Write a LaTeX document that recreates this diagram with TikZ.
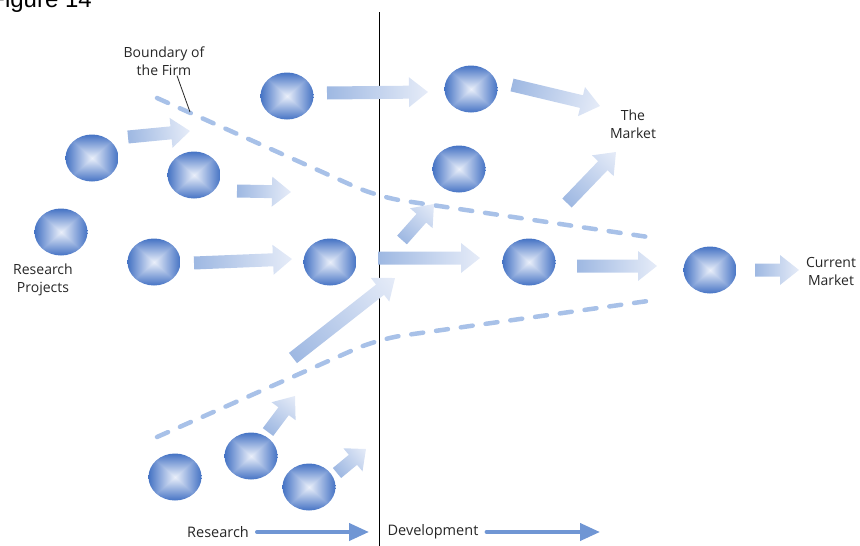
\documentclass[tikz,border=0pt]{standalone}
\usepackage{fontspec}
\setmainfont{Open Sans}
\newfontfamily\figfont{Liberation Sans}
\usetikzlibrary{shapes.geometric,arrows.meta}

\definecolor{arrowTail}{RGB}{158,184,226}
\definecolor{arrowTip}{RGB}{230,236,248}
\definecolor{boundary}{RGB}{168,193,232}
\definecolor{flow}{RGB}{112,150,212}
\definecolor{labeltext}{RGB}{38,38,38}

% rectangular gradient: light centre fading to blue along max(|x|,|y|)
\pgfdeclarefunctionalshading{ballshade}{\pgfpoint{-50bp}{-50bp}}{\pgfpoint{50bp}{50bp}}{}{
  abs exch abs 2 copy lt {exch} if pop 25 div
  dup 1 gt {pop 1} if
  dup -0.65 mul 0.92 add exch
  dup -0.49 mul 0.94 add exch
  -0.21 mul 0.98 add
}

\tikzset{
  ball/.style={ellipse, minimum width=53pt, minimum height=47pt, inner sep=0pt,
    path picture={
      \shade[shading=ballshade, shading angle=0]
        (path picture bounding box.south west) rectangle
        (path picture bounding box.north east);
    }},
  lbl/.style={align=center, text=labeltext, inner sep=0pt,
    font=\fontsize{14}{18}\selectfont},
  firmline/.style={draw=boundary, line width=4.5pt, line cap=round,
    dash pattern=on 12pt off 13pt, rounded corners=25pt},
  flowarrow/.style={draw=flow, line width=4pt, line cap=round,
    -{Triangle[length=20pt,width=17pt]}},
}

% broad block arrow with a fading gradient from tail to tip
\newcommand\blockarrow[2]{%
  \path (#1); \pgfgetlastxy{\baax}{\baay}%
  \path (#2); \pgfgetlastxy{\babx}{\baby}%
  \pgfmathsetmacro\baang{atan2(\baby-\baay,\babx-\baax)}%
  \pgfmathsetmacro\balen{veclen(\babx-\baax,\baby-\baay)}%
  \pgfmathsetmacro\bahead{min(19,0.45*\balen)}%
  \pgfmathsetmacro\bashaft{\balen-\bahead}%
  \shade[transform canvas={shift={(\baax,\baay)},rotate=\baang},
         left color=arrowTail, right color=arrowTip]
    (0pt,-6.5pt) -- (\bashaft pt,-6.5pt) -- (\bashaft pt,-15pt) -- (\balen pt,0pt)
    -- (\bashaft pt,15pt) -- (\bashaft pt,6.5pt) -- (0pt,6.5pt) -- cycle;
}

\begin{document}
\begin{tikzpicture}[x=1pt,y=-1pt]
\useasboundingbox (0,0) rectangle (860,546);

% caption, partly cut off at the top edge
\node[anchor=base east, inner sep=0pt, font=\figfont\fontsize{24}{28}\selectfont,
      text=black] (cap) at (92,7) {Figure 14};

% research / development divide
\coordinate (vtop) at (379,12);
\coordinate (vbot) at (379,546);
\draw[line width=1pt, black] (vtop) -- (vbot);

% boundary of the firm
\coordinate (ub1) at (157,98);
\coordinate (ub2) at (378,197);
\coordinate (ub3) at (655,238);
\coordinate (lb1) at (157,437);
\coordinate (lb2) at (378,339);
\coordinate (lb3) at (655,300);
\draw[firmline] (ub1) -- (ub2) -- (ub3);
\draw[firmline] (lb1) -- (lb2) -- (lb3);

% projects
\node[ball] (b1)  at (92,158)  {};
\node[ball] (b2)  at (194,175) {};
\node[ball] (b3)  at (61,232)  {};
\node[ball] (b4)  at (154,262) {};
\node[ball] (b5)  at (330,262) {};
\node[ball] (b6)  at (287,96)  {};
\node[ball] (b7)  at (471,89)  {};
\node[ball] (b8)  at (459,169) {};
\node[ball] (b9)  at (529,262) {};
\node[ball] (b10) at (710,270) {};
\node[ball] (b11) at (175,477) {};
\node[ball] (b12) at (251,456) {};
\node[ball] (b13) at (309,487) {};

% labels
\node[lbl] (bnd) at (164,61) {Boundary of\\the Firm};
\coordinate (bndptr) at (190,112);
\draw[line width=0.8pt, black!85] ([xshift=13pt]bnd.south) -- (bndptr);
\node[lbl] (mkt) at (633,124) {The\\Market};
\node[lbl] (cur) at (831,271) {Current\\Market};
\node[lbl] (rp)  at (43,280)  {Research\\Projects};

% flow of projects
\coordinate (a1s) at (128,137); \coordinate (a1e) at (190,131);
\coordinate (a2s) at (237,191); \coordinate (a2e) at (291,192);
\coordinate (a3s) at (194,263); \coordinate (a3e) at (292,259);
\coordinate (a4s) at (327,93);  \coordinate (a4e) at (428,92);
\coordinate (a5s) at (512,85);  \coordinate (a5e) at (600,106);
\coordinate (a6s) at (402,240); \coordinate (a6e) at (434,204);
\coordinate (a7s) at (378,258); \coordinate (a7e) at (480,258);
\coordinate (a8s) at (567,203); \coordinate (a8e) at (616,152);
\coordinate (a9s) at (577,266); \coordinate (a9e) at (657,266);
\coordinate (a10s) at (755,270); \coordinate (a10e) at (799,270);
\coordinate (a11s) at (293,358); \coordinate (a11e) at (395,278);
\coordinate (a12s) at (268,432); \coordinate (a12e) at (295,396);
\coordinate (a13s) at (337,473); \coordinate (a13e) at (366,449);
\blockarrow{a1s}{a1e}
\blockarrow{a2s}{a2e}
\blockarrow{a3s}{a3e}
\blockarrow{a4s}{a4e}
\blockarrow{a5s}{a5e}
\blockarrow{a6s}{a6e}
\blockarrow{a7s}{a7e}
\blockarrow{a8s}{a8e}
\blockarrow{a9s}{a9e}
\blockarrow{a10s}{a10e}
\blockarrow{a11s}{a11e}
\blockarrow{a12s}{a12e}
\blockarrow{a13s}{a13e}

% phases
\node[lbl, font=\fontsize{14.5}{18}\selectfont] (res) at (218,532) {Research};
\node[lbl, font=\fontsize{14.5}{18}\selectfont] (dev) at (433,532) {Development};
\coordinate (resend) at (369,532);
\coordinate (devend) at (600,532);
\draw[flowarrow] ([xshift=8pt]res.east) -- (resend);
\draw[flowarrow] ([xshift=8pt]dev.east) -- (devend);
\end{tikzpicture}
\end{document}
